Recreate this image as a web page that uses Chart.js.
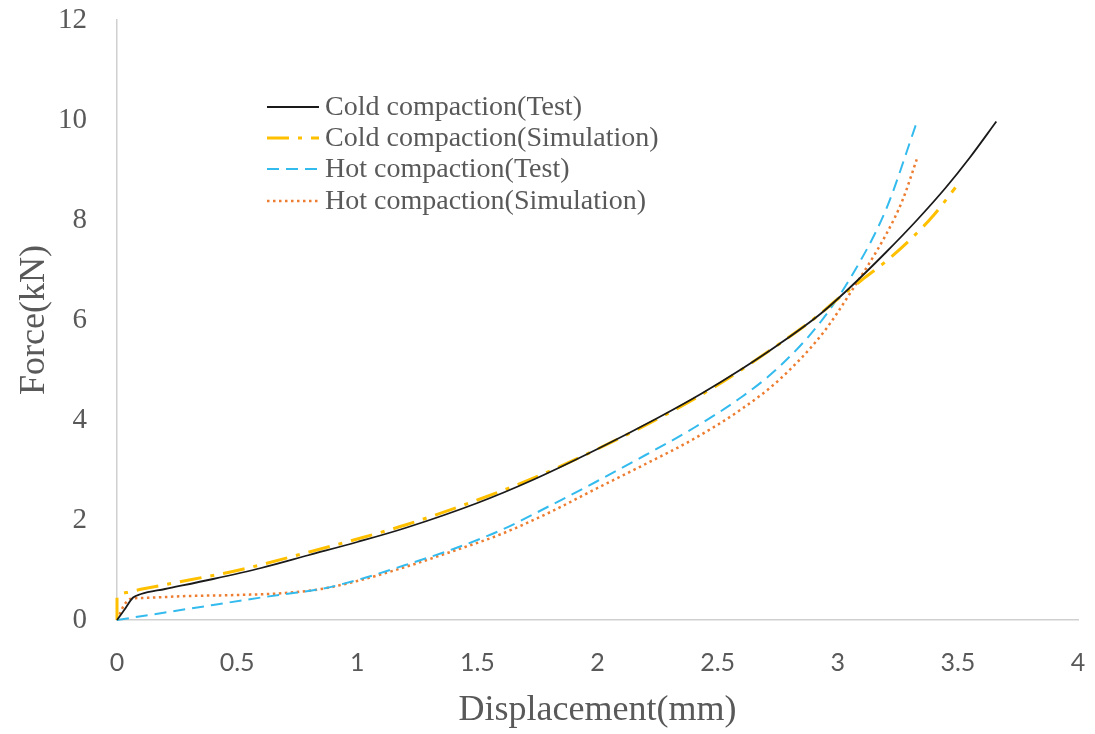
<!DOCTYPE html>
<html>
<head>
<meta charset="utf-8">
<script src="https://cdn.jsdelivr.net/npm/chart.js@4"></script>
<style>
  html, body { margin: 0; padding: 0; background: #ffffff; }
  #wrap { width: 1095px; height: 734px; }
</style>
</head>
<body>
<div id="wrap"><canvas id="c" width="1095" height="734"></canvas></div>
<script>
// ---- data (displacement mm, force kN) ----
const coldTestX = [0, 0.03, 0.067, 0.1, 0.2, 0.4, 0.6, 0.8, 1.0, 1.2, 1.5, 1.73, 2.0, 2.25, 2.43, 2.6, 2.76, 2.93, 3.04, 3.2, 3.33, 3.45, 3.55, 3.66];
const coldTestY = [0, 0.2, 0.45, 0.52, 0.62, 0.82, 1.04, 1.3, 1.56, 1.84, 2.34, 2.8, 3.42, 4.04, 4.52, 5.02, 5.53, 6.13, 6.6, 7.35, 8.0, 8.65, 9.25, 9.97];

const coldSimX = [0, 0, 0.01, 0.05, 0.15, 0.3, 0.5, 0.8, 1.0, 1.2, 1.5, 1.75, 2.0, 2.25, 2.5, 2.75, 2.9, 3.0, 3.1, 3.2, 3.3, 3.4, 3.49];
const coldSimY = [0, 0.45, 0.5, 0.56, 0.66, 0.8, 0.99, 1.36, 1.62, 1.9, 2.4, 2.87, 3.42, 4.02, 4.7, 5.5, 6.02, 6.42, 6.8, 7.17, 7.6, 8.1, 8.65];

const hotTestX = [0, 0.2, 0.4, 0.6, 0.75, 0.85, 1.0, 1.2, 1.4, 1.6, 1.8, 2.0, 2.2, 2.4, 2.6, 2.76, 2.93, 3.06, 3.2, 3.33];
const hotTestY = [0, 0.15, 0.3, 0.45, 0.55, 0.62, 0.8, 1.1, 1.42, 1.8, 2.28, 2.78, 3.3, 3.84, 4.46, 5.08, 5.97, 6.9, 8.2, 9.97];

const hotSimX = [0, 0.03, 0.055, 0.1, 0.3, 0.5, 0.7, 0.85, 1.0, 1.2, 1.4, 1.6, 1.8, 2.0, 2.2, 2.4, 2.6, 2.76, 2.94, 3.06, 3.2, 3.27, 3.33];
const hotSimY = [0, 0.3, 0.42, 0.44, 0.48, 0.5, 0.54, 0.62, 0.78, 1.06, 1.38, 1.72, 2.15, 2.64, 3.12, 3.62, 4.22, 4.82, 5.75, 6.6, 7.7, 8.4, 9.23];

const seriesLabels = ['Cold compaction(Test)', 'Cold compaction(Simulation)', 'Hot compaction(Test)', 'Hot compaction(Simulation)'];
const xTicks = [0, 0.5, 1, 1.5, 2, 2.5, 3, 3.5, 4];
const yTicks = [0, 2, 4, 6, 8, 10, 12];
const xTitle = 'Displacement(mm)';
const yTitle = 'Force(kN)';

function pts(xs, ys) { return xs.map((x, i) => ({ x: x, y: ys[i] })); }

const TICK_COLOR = '#595959';
const AXIS_COLOR = '#d0d0d0';

const legendPlugin = {
  id: 'inLegend',
  afterDatasetsDraw(chart) {
    const ctx = chart.ctx;
    const rows = [107, 138, 169, 201];
    ctx.save();
    chart.data.datasets.forEach((ds, i) => {
      const y = rows[i];
      ctx.beginPath();
      ctx.strokeStyle = ds.borderColor;
      ctx.lineWidth = ds.borderWidth;
      ctx.setLineDash(ds.borderDash || []);
      ctx.lineCap = ds.borderCapStyle || 'butt';
      ctx.moveTo(267, y);
      ctx.lineTo(319, y);
      ctx.stroke();
      ctx.setLineDash([]);
      ctx.fillStyle = TICK_COLOR;
      ctx.font = '28px "Liberation Serif", "Times New Roman", serif';
      ctx.textAlign = 'left';
      ctx.textBaseline = 'middle';
      ctx.fillText(ds.label, 325, y + 1);
    });
    ctx.restore();
  }
};

new Chart(document.getElementById('c'), {
  type: 'line',
  data: {
    datasets: [
      { label: seriesLabels[0], data: pts(coldTestX, coldTestY), borderColor: '#1a1a1a', borderWidth: 1.8, pointRadius: 0, cubicInterpolationMode: 'monotone', fill: false, clip: false },
      { label: seriesLabels[1], data: pts(coldSimX, coldSimY), borderColor: '#FFC000', borderWidth: 3, borderDash: [22, 9, 4, 9], pointRadius: 0, cubicInterpolationMode: 'monotone', fill: false, clip: false },
      { label: seriesLabels[2], data: pts(hotTestX, hotTestY), borderColor: '#33BBEE', borderWidth: 2, borderDash: [12, 7], pointRadius: 0, cubicInterpolationMode: 'monotone', fill: false, clip: false },
      { label: seriesLabels[3], data: pts(hotSimX, hotSimY), borderColor: '#ED7D31', borderWidth: 2.5, borderDash: [2.5, 3.5], pointRadius: 0, cubicInterpolationMode: 'monotone', fill: false, clip: false }
    ]
  },
  options: {
    responsive: false,
    animation: false,
    devicePixelRatio: 1,
    layout: { padding: { top: 20, right: 17, left: 0, bottom: 0 } },
    plugins: { legend: { display: false }, tooltip: { enabled: false } },
    scales: {
      x: {
        type: 'linear', min: 0, max: 4,
        afterBuildTicks: (s) => { s.ticks = xTicks.map(v => ({ value: v })); },
        afterFit: (s) => { s.height = 114; s.paddingLeft = 0; s.paddingRight = 0; },
        grid: { display: false, drawTicks: false },
        border: { display: true, color: AXIS_COLOR, width: 1.5 },
        ticks: { color: TICK_COLOR, font: { family: 'Lato, "Open Sans", sans-serif', size: 25 }, padding: 28, maxRotation: 0, callback: (v) => String(v) },
        title: { display: true, text: xTitle, color: TICK_COLOR, font: { family: '"Liberation Serif", "Times New Roman", serif', size: 36 }, padding: { top: 0, bottom: 2 } }
      },
      y: {
        type: 'linear', min: 0, max: 12,
        afterBuildTicks: (s) => { s.ticks = yTicks.map(v => ({ value: v })); },
        afterFit: (s) => { s.width = 117; s.paddingTop = 0; s.paddingBottom = 0; },
        grid: { display: false, drawTicks: false },
        border: { display: true, color: AXIS_COLOR, width: 1.5 },
        ticks: { color: TICK_COLOR, font: { family: '"Liberation Serif", "Times New Roman", serif', size: 29 }, padding: 30, callback: (v) => String(v) },
        title: { display: true, text: yTitle, color: TICK_COLOR, font: { family: '"Liberation Serif", "Times New Roman", serif', size: 36 }, padding: { top: 13, bottom: 0 } }
      }
    }
  },
  plugins: [legendPlugin]
});
</script>
</body>
</html>
